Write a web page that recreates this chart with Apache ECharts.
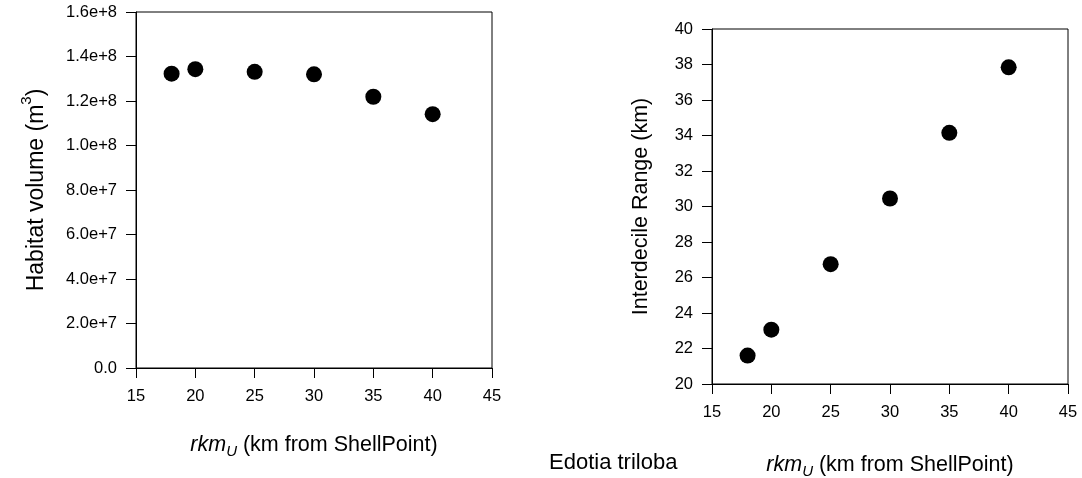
<!DOCTYPE html>
<html>
<head>
<meta charset="utf-8">
<script src="https://cdn.jsdelivr.net/npm/echarts@6/dist/echarts.min.js"></script>
<style>
  html, body { margin: 0; padding: 0; background: #fff; }
  #chart { width: 1082px; height: 478px; }
</style>
</head>
<body>
<div id="chart"></div>
<script>
// river km upstream (same for both panels)
var rkm = [18, 20, 25, 30, 35, 40];
// left panel: habitat volume (m3)
var habitatVolume = [1.323e8, 1.343e8, 1.331e8, 1.320e8, 1.219e8, 1.141e8];
// right panel: interdecile range (km)
var interdecileRange = [21.6, 23.06, 26.75, 30.45, 34.15, 37.84];
var speciesName = 'Edotia triloba';

function pairs(xs, ys) {
    var out = [];
    for (var i = 0; i < xs.length; i++) {
        out.push([xs[i], ys[i]]);
    }
    return out;
}

var font = 'Liberation Sans, Arial, sans-serif';
var black = '#000';

// x axis name with italic rkm and subscript U
var xNameRich = {
    i: { fontStyle: 'italic', fontSize: 21.5, fontFamily: font, color: black },
    s: { fontStyle: 'italic', fontSize: 15, fontFamily: font, color: black, padding: [13, 0, 0, 0] },
    n: { fontSize: 21.5, fontFamily: font, color: black }
};

function xAxisCfg(gridIndex, gap) {
    return {
        type: 'value',
        gridIndex: gridIndex,
        min: 15,
        max: 45,
        interval: 5,
        name: '{i|rkm}{s|U}{n| (km from ShellPoint)}',
        nameLocation: 'middle',
        nameGap: gap,
        nameTextStyle: { rich: xNameRich },
        axisLine: { show: true, lineStyle: { color: black, width: 1 } },
        axisTick: { show: true, inside: false, length: 10, lineStyle: { color: black } },
        axisLabel: { margin: 20, fontSize: 16.5, fontFamily: font, color: black },
        splitLine: { show: false }
    };
}

var myChart = echarts.init(document.getElementById('chart'));

var option = {
    animation: false,
    backgroundColor: '#fff',
    grid: [
        { left: 136, top: 12, right: 590, bottom: 110, show: true, borderColor: black, borderWidth: 1, outerBoundsMode: 'none' },
        { left: 712, top: 29, right: 14, bottom: 94, show: true, borderColor: black, borderWidth: 1, outerBoundsMode: 'none' }
    ],
    xAxis: [xAxisCfg(0, 63), xAxisCfg(1, 67)],
    yAxis: [
        {
            type: 'value',
            gridIndex: 0,
            min: 0,
            max: 1.6e8,
            interval: 2e7,
            name: '{n|Habitat volume (m}{p|3}{n|)}',
            nameLocation: 'middle',
            nameGap: 82,
            nameTextStyle: {
                rich: {
                    n: { fontSize: 23, fontFamily: font, color: black },
                    p: { fontSize: 15, fontFamily: font, color: black, padding: [0, 0, 20, 0] }
                }
            },
            axisLine: { show: true, lineStyle: { color: black, width: 1 } },
            axisTick: { show: true, length: 10, lineStyle: { color: black } },
            axisLabel: {
                margin: 19,
                fontSize: 16.5,
                fontFamily: font,
                color: black,
                formatter: function (v) {
                    if (v === 0) return '0.0';
                    return v.toExponential(1);
                }
            },
            splitLine: { show: false }
        },
        {
            type: 'value',
            gridIndex: 1,
            min: 20,
            max: 40,
            interval: 2,
            name: 'Interdecile Range (km)',
            nameLocation: 'middle',
            nameGap: 60,
            nameTextStyle: { fontSize: 21.5, fontFamily: font, color: black },
            axisLine: { show: true, lineStyle: { color: black, width: 1 } },
            axisTick: { show: true, length: 10, lineStyle: { color: black } },
            axisLabel: { margin: 19, fontSize: 16.5, fontFamily: font, color: black },
            splitLine: { show: false }
        }
    ],
    series: [
        {
            type: 'scatter',
            xAxisIndex: 0,
            yAxisIndex: 0,
            symbol: 'circle',
            symbolSize: 16,
            itemStyle: { color: black, opacity: 1 },
            data: pairs(rkm, habitatVolume)
        },
        {
            type: 'scatter',
            xAxisIndex: 1,
            yAxisIndex: 1,
            symbol: 'circle',
            symbolSize: 16,
            itemStyle: { color: black, opacity: 1 },
            data: pairs(rkm, interdecileRange)
        }
    ],
    graphic: [
        {
            type: 'text',
            left: 549,
            top: 452,
            style: { text: speciesName, fontSize: 22, fontFamily: font, fill: black }
        }
    ]
};

myChart.setOption(option);
</script>
</body>
</html>
